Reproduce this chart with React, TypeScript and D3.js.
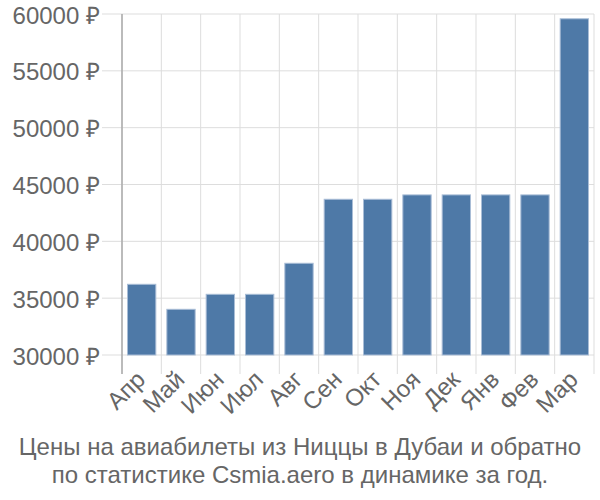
import React from "react";
import * as d3 from "d3";

const months = ["Апр", "Май", "Июн", "Июл", "Авг", "Сен", "Окт", "Ноя", "Дек", "Янв", "Фев", "Мар"];
const prices = [36220, 34020, 35340, 35340, 38070, 43700, 43700, 44085, 44085, 44085, 44085, 59580];
const yTicks = [30000, 35000, 40000, 45000, 50000, 55000, 60000];
const titleLines = [
  "Цены на авиабилеты из Ниццы в Дубаи и обратно",
  "по статистике Csmia.aero в динамике за год.",
];

const W = 600;
const H = 500;
const left = 122;
const right = 594;
const top = 14;
const bottom = 355;

export default function App() {
  const x = d3.scaleBand<string>().domain(months).range([left, right]).paddingInner(0.28).paddingOuter(0.14);
  const xGrid = d3.scaleBand<string>().domain(months).range([left, right]);
  const y = d3.scaleLinear().domain([30000, 60000]).range([bottom, top]);
  const font = "Liberation Sans, Arial, sans-serif";
  const textColor = "#666";
  const gridColor = "#ddd";

  return (
    <svg width={W} height={H} style={{ position: "absolute", left: 0, top: 0 }} fontFamily={font}>
      {yTicks.map((t) => (
        <line key={"h" + t} x1={left - 20} x2={right} y1={y(t)} y2={y(t)} stroke={gridColor} strokeWidth={1} />
      ))}
      {months.map((m) => (
        <line
          key={"v" + m}
          x1={xGrid(m) as number}
          x2={xGrid(m) as number}
          y1={top}
          y2={bottom + 19}
          stroke={gridColor}
          strokeWidth={1}
        />
      ))}
      <line x1={right} x2={right} y1={top} y2={bottom + 19} stroke={gridColor} strokeWidth={1} />
      {months.map((m, i) => (
        <rect
          key={"b" + m}
          x={x(m) as number}
          y={y(prices[i])}
          width={x.bandwidth()}
          height={bottom - y(prices[i])}
          fill="#4e79a7"
          stroke="#a9bdd6"
          strokeWidth={1}
        />
      ))}
      <line x1={left} x2={left} y1={top} y2={bottom + 19} stroke="#aaa" strokeWidth={1.5} />
      {yTicks.map((t) => (
        <text key={"t" + t} x={100} y={y(t)} dy="0.4em" textAnchor="end" fontSize={24} fill={textColor}>
          {t} ₽
        </text>
      ))}
      {months.map((m) => {
        const cx = (x(m) as number) + x.bandwidth() / 2 + 5;
        const cy = bottom + 26;
        return (
          <text
            key={"x" + m}
            transform={`translate(${cx},${cy}) rotate(-45)`}
            textAnchor="end"
            fontSize={24}
            fill={textColor}
          >
            {m}
          </text>
        );
      })}
      {titleLines.map((l, i) => (
        <text key={"ti" + i} x={W / 2} y={455 + i * 28} textAnchor="middle" fontSize={24} fill={textColor}>
          {l}
        </text>
      ))}
    </svg>
  );
}
